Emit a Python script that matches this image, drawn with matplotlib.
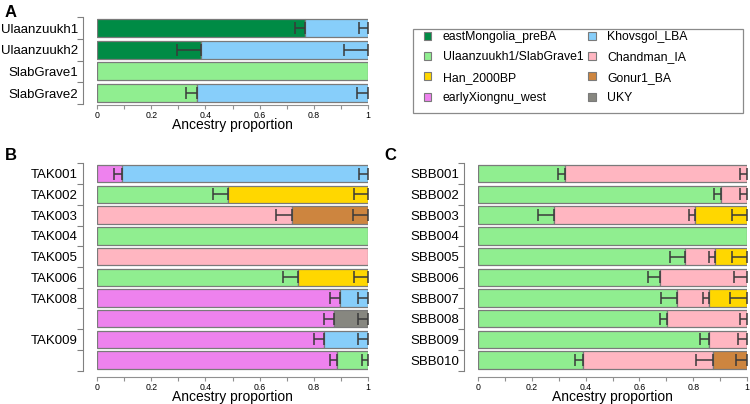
import matplotlib
matplotlib.use('Agg')
import matplotlib.pyplot as plt
from matplotlib.patches import Patch, Rectangle

plt.rcParams['font.family'] = ['Liberation Sans', 'DejaVu Sans']

# ancestry sources and colours
sources = ['eastMongolia_preBA', 'Ulaanzuukh1/SlabGrave1', 'Han_2000BP', 'earlyXiongnu_west',
           'Khovsgol_LBA', 'Chandman_IA', 'Gonur1_BA', 'UKY']
source_colors = ['#008B45', '#90EE90', '#FFD700', '#EE82EE',
                 '#87CEFA', '#FFB6C1', '#CD853F', '#878780']

# panel A
a_labels = ['Ulaanzuukh1', 'Ulaanzuukh2', 'SlabGrave1', 'SlabGrave2']
a_sources = [['eastMongolia_preBA', 'Khovsgol_LBA'],
             ['eastMongolia_preBA', 'Khovsgol_LBA'],
             ['Ulaanzuukh1/SlabGrave1'],
             ['Ulaanzuukh1/SlabGrave1', 'Khovsgol_LBA']]
a_props = [[0.767, 0.233], [0.384, 0.616], [1.0], [0.369, 0.631]]
a_errs = [[0.037, 0.034], [0.09, 0.089], [0], [0.04, 0.042]]

# panel B
b_labels = ['TAK001', 'TAK002', 'TAK003', 'TAK004', 'TAK005', 'TAK006', 'TAK008', '', 'TAK009', '']
b_sources = [['earlyXiongnu_west', 'Khovsgol_LBA'],
             ['Ulaanzuukh1/SlabGrave1', 'Han_2000BP'],
             ['Chandman_IA', 'Gonur1_BA'],
             ['Ulaanzuukh1/SlabGrave1'],
             ['Chandman_IA'],
             ['Ulaanzuukh1/SlabGrave1', 'Han_2000BP'],
             ['earlyXiongnu_west', 'Khovsgol_LBA'],
             ['earlyXiongnu_west', 'UKY'],
             ['earlyXiongnu_west', 'Khovsgol_LBA'],
             ['earlyXiongnu_west', 'Ulaanzuukh1/SlabGrave1']]
b_props = [[0.094, 0.906], [0.483, 0.517], [0.718, 0.282], [1.0], [1.0],
           [0.74, 0.26], [0.895, 0.105], [0.876, 0.124], [0.839, 0.161], [0.886, 0.114]]
b_errs = [[0.032, 0.035], [0.055, 0.053], [0.057, 0.056], [0], [0],
          [0.053, 0.053], [0.037, 0.037], [0.037, 0.037], [0.037, 0.037], [0.028, 0.022]]

# panel C
c_labels = ['SBB001', 'SBB002', 'SBB003', 'SBB004', 'SBB005',
            'SBB006', 'SBB007', 'SBB008', 'SBB009', 'SBB010']
c_sources = [['Ulaanzuukh1/SlabGrave1', 'Chandman_IA'],
             ['Ulaanzuukh1/SlabGrave1', 'Chandman_IA'],
             ['Ulaanzuukh1/SlabGrave1', 'Chandman_IA', 'Han_2000BP'],
             ['Ulaanzuukh1/SlabGrave1'],
             ['Ulaanzuukh1/SlabGrave1', 'Chandman_IA', 'Han_2000BP'],
             ['Ulaanzuukh1/SlabGrave1', 'Chandman_IA'],
             ['Ulaanzuukh1/SlabGrave1', 'Chandman_IA', 'Han_2000BP'],
             ['Ulaanzuukh1/SlabGrave1', 'Chandman_IA'],
             ['Ulaanzuukh1/SlabGrave1', 'Chandman_IA'],
             ['Ulaanzuukh1/SlabGrave1', 'Chandman_IA', 'Gonur1_BA']]
c_props = [[0.323, 0.677], [0.904, 0.096], [0.284, 0.523, 0.193], [1.0],
           [0.768, 0.113, 0.119], [0.678, 0.322], [0.74, 0.118, 0.142],
           [0.702, 0.298], [0.857, 0.143], [0.391, 0.482, 0.127]]
c_errs = [[0.025, 0.025], [0.025, 0.025], [0.06, 0.021, 0.057], [0],
          [0.056, 0.021, 0.057], [0.046, 0.05], [0.058, 0.02, 0.062],
          [0.025, 0.026], [0.031, 0.035], [0.031, 0.062, 0.041]]

W, H = 750.0, 404.0


def px_axes(fig, left, right, top, bottom):
    return fig.add_axes([left / W, 1 - bottom / H, (right - left) / W, (bottom - top) / H])


def draw_panel(ax, labels, srcs, props, errs, bottom_offset):
    n = len(labels)
    for i in range(n):
        start = 0.0
        for s, p in zip(srcs[i], props[i]):
            ax.barh(i, p, left=start, height=0.84, color=source_colors[sources.index(s)],
                    edgecolor='#7a7a7a', linewidth=0.9, zorder=2)
            start += p
        start = 0.0
        for p, e in zip(props[i], errs[i]):
            start += p
            if e > 0:
                ax.errorbar(start, i, xerr=[[e], [0]], fmt='none', ecolor='#3a3a3a',
                            elinewidth=1.1, capsize=4.5, capthick=1.1, zorder=3)

    ax.set_xlim(0, 1)
    ax.set_ylim(n - 0.5, -0.5)
    for side in ['top', 'right']:
        ax.spines[side].set_visible(False)
    ax.spines['left'].set_position(('outward', 10))
    ax.spines['bottom'].set_position(('outward', bottom_offset))
    ax.spines['left'].set_color('#808080')
    ax.spines['bottom'].set_color('#909090')
    ax.spines['bottom'].set_bounds(0, 1)

    # ticks between rows, labels at rows
    ax.set_yticks([k - 0.5 for k in range(n + 1)])
    ax.set_yticklabels([])
    ax.set_yticks(list(range(n)), minor=True)
    ax.set_yticklabels(labels, minor=True, fontsize=9.5)
    ax.tick_params(axis='y', which='major', length=4, color='#808080')
    ax.tick_params(axis='y', which='minor', length=0, pad=3.6)

    ax.set_xticks([k / 10 for k in range(11)])
    ax.set_xticklabels(['0', '', '0.2', '', '0.4', '', '0.6', '', '0.8', '', '1'], fontsize=6.3)
    ax.tick_params(axis='x', length=3, color='#909090', pad=1)
    ax.set_xlabel('Ancestry proportion', fontsize=10, labelpad=-1.5)


def main():
    fig = plt.figure(figsize=(7.5, 4.04), dpi=100)

    ax_a = px_axes(fig, 97, 368, 17.4, 103.8)
    draw_panel(ax_a, a_labels, a_sources, a_props, a_errs, 1)

    ax_b = px_axes(fig, 97, 368, 163.4, 370.5)
    draw_panel(ax_b, b_labels, b_sources, b_props, b_errs, 5)

    ax_c = px_axes(fig, 478, 747, 163.4, 370.5)
    draw_panel(ax_c, c_labels, c_sources, c_props, c_errs, 5)

    fig.text(5 / W, 1 - 17 / H, 'A', fontsize=12, fontweight='bold')
    fig.text(5 / W, 1 - 160 / H, 'B', fontsize=12, fontweight='bold')
    fig.text(384 / W, 1 - 160 / H, 'C', fontsize=12, fontweight='bold')

    # legend box is wider than its content, so draw the frame separately
    fig.patches.append(Rectangle((413 / W, 1 - 113 / H), 330 / W, 84 / H, transform=fig.transFigure,
                                 facecolor='white', edgecolor='#8a8a8a', linewidth=0.9))
    handles = [Patch(facecolor=c, edgecolor='#7a7a7a', linewidth=0.8) for c in source_colors]
    fig.legend(handles, sources, ncol=2, loc='upper left',
               bbox_to_anchor=(424 / W, 1 - 31 / H), frameon=False,
               fontsize=8.8, handlelength=0.6, handleheight=0.6, handletextpad=0.95,
               labelspacing=0.68, borderpad=0, columnspacing=0.4, borderaxespad=0)

    plt.savefig('out.png', dpi=100, facecolor='white')


if __name__ == '__main__':
    main()
